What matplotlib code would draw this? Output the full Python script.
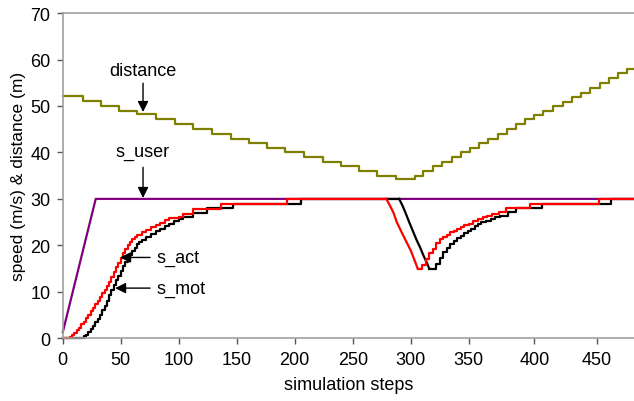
import matplotlib
matplotlib.use('Agg')
import matplotlib.pyplot as plt

plt.rcParams['font.family'] = ['Liberation Sans', 'DejaVu Sans']

nan = float('nan')

# x is the sample index of the Excel category axis; the tick labels are the step names
tick_pos = [0, 50, 100, 150, 200, 250, 300, 350, 406.6, 460.3]
tick_labels = ['0', '50', '100', '150', '200', '250', '300', '350', '400', '450']

# s_user (purple)
user_x = [0, 28.4, 493]
user_y = [1.3, 30, 30]

# s_act (red), stair part (nan breaks where the sharp drop is)
act_x = [0, 6, 8, 10, 12, 14, 16, 18, 20, 22, 24, 26, 28, 30, 32, 34, 36, 38, 40, 42,
         44, 46, 48, 50, 52, 54, 56, 58, 60, 62, 64, 68, 72, 76, 80, 84, 88, 92, 96, 100,
         104, 112, 136, 193, 279, 279.1, 306, 310, 313, 316, 319, 322, 325, 328, 331, 334, 337, 340, 343, 346,
         350, 354, 358, 362, 366, 370, 376, 382, 403, 462, 493]
act_y = [0, 0.3, 0.7, 1.2, 1.7, 2.3, 3.0, 3.6, 4.3, 5.0, 5.8, 6.5, 7.3, 8.1, 8.9, 9.7, 10.5, 11.3, 12.2, 13.2,
         14.3, 15.3, 16.3, 17.3, 18.3, 19.2, 20.0, 20.7, 21.3, 21.8, 22.2, 22.8, 23.4, 23.9, 24.4, 24.9, 25.4, 25.8, 25.8, 26.0,
         26.8, 27.8, 29.0, 30.0, 30.0, nan, 15.0, 15.8, 17.1, 18.3, 19.3, 20.6, 21.3, 21.8, 22.3, 22.8, 23.2, 23.5, 23.9, 24.3,
         24.7, 25.2, 25.7, 26.0, 26.4, 26.8, 27.2, 28.0, 29.0, 30.0, 30.0]
# s_act drop (drawn as a slanted line)
act_drop_x = [279, 282, 285, 288, 292, 296, 300, 303, 306]
act_drop_y = [30.0, 28.6, 27.1, 25.0, 22.9, 20.9, 18.9, 17.0, 15.0]

# s_mot (black), stair part
mot_x = [0, 16, 18, 20, 22, 24, 26, 28, 30, 32, 34, 36, 38, 40, 42, 44, 46, 48, 50, 52,
         54, 56, 58, 60, 62, 64, 66, 68, 72, 76, 80, 84, 88, 92, 96, 100, 104, 112, 124, 147,
         205, 290, 290.1, 316, 319, 322, 325, 328, 331, 334, 337, 340, 343, 346, 349, 352, 355, 358, 361, 365,
         369, 373, 377, 384, 391, 413, 473, 493]
mot_y = [0, 0, 0.4, 0.8, 1.4, 2.0, 2.7, 3.4, 4.2, 5.0, 6.0, 7.0, 8.1, 9.3, 10.4, 11.5, 12.5, 13.5, 14.5, 15.5,
         16.4, 17.2, 18.0, 18.8, 19.5, 20.2, 20.7, 21.2, 21.9, 22.4, 23.0, 23.6, 24.2, 24.7, 25.2, 25.7, 26.0, 26.9, 28.0, 29.0,
         30.0, 30.0, nan, 15.0, 15.0, 16.0, 17.3, 18.5, 19.5, 20.4, 21.0, 21.6, 22.1, 22.7, 23.2, 23.6, 24.1, 24.6, 25.0, 25.3,
         25.7, 26.0, 26.4, 27.2, 28.0, 29.0, 30.0, 30.0]
# s_mot drop
mot_drop_x = [290, 293, 296, 299, 302, 305, 308, 311, 314, 316]
mot_drop_y = [30.0, 28.5, 26.7, 24.8, 23.0, 21.2, 19.6, 17.8, 16.2, 15.0]

# distance (olive), one value per stair
dist_x = [0, 17.2, 32.8, 48.8, 64.3, 80.4, 96.8, 112.1, 128.4, 144.8, 160.3, 176.4, 191.9, 208, 224.1,
          239.7, 255.7, 271.2, 287.3, 303.7, 310.6, 319, 326.7, 335.3, 343.1, 351.1, 359.1, 366.9, 375,
          382.8, 390.8, 398.8, 406.6, 414.3, 422.9, 431, 438.8, 446.6, 454.6, 463.2, 471.2, 478.9, 486.7, 493]
dist_y = [52.2, 51.1, 49.9, 48.9, 48.2, 47.3, 46.1, 45.0, 43.9, 43.0, 42.0, 41.0, 40.0, 39.1, 38.0,
          37.0, 36.0, 35.0, 34.2, 35.0, 36.0, 37.0, 38.0, 39.1, 40.0, 41.0, 42.0, 43.0, 44.0,
          45.1, 46.1, 47.1, 48.1, 48.9, 49.9, 50.9, 51.9, 52.9, 53.9, 55.0, 56.0, 57.0, 58.0, 58.0]

fig = plt.figure(figsize=(6.34, 4.02), dpi=100)
ax = fig.add_axes([0.099, 0.156, 0.901, 0.809])

lw = 1.6
ax.plot(dist_x, dist_y, color='#808000', lw=lw, drawstyle='steps-post', clip_on=False)
ax.plot(user_x, user_y, color='#800080', lw=lw, clip_on=False)
ax.plot(mot_x, mot_y, color='black', lw=lw, drawstyle='steps-post', clip_on=False)
ax.plot(mot_drop_x, mot_drop_y, color='black', lw=lw)
ax.plot(act_x, act_y, color='red', lw=lw, drawstyle='steps-post', clip_on=False)
ax.plot(act_drop_x, act_drop_y, color='red', lw=lw)

ax.set_xlim(0, 492.5)
ax.set_ylim(0, 70)
ax.set_xticks(tick_pos)
ax.set_xticklabels(tick_labels)
ax.set_yticks(range(0, 71, 10))

for side in ['left', 'bottom', 'top']:
    ax.spines[side].set_color('#a0a0a0')
    ax.spines[side].set_linewidth(1.2)
ax.spines['right'].set_visible(False)
ax.tick_params(direction='out', length=4, width=1, color='#555555', labelsize=13, pad=5)

ax.set_xlabel('simulation steps', fontsize=13, labelpad=6)
ax.set_ylabel('speed (m/s) & distance (m)', fontsize=12.5, labelpad=3)

# labels with arrows
arrow = dict(arrowstyle='-|>', color='black', lw=1, mutation_scale=16, shrinkA=0, shrinkB=0)
ax.text(69.2, 57.7, 'distance', fontsize=13, ha='center', va='center')
ax.annotate('', xy=(69.2, 48.7), xytext=(69.2, 54.9), arrowprops=arrow)
ax.text(69.2, 40.3, 's_user', fontsize=13, ha='center', va='center')
ax.annotate('', xy=(69.2, 30.2), xytext=(69.2, 36.8), arrowprops=arrow)
ax.text(80.4, 17.4, 's_act', fontsize=13, ha='left', va='center')
ax.annotate('', xy=(49.4, 17.4), xytext=(75.3, 17.4), arrowprops=arrow)
ax.text(80.4, 10.8, 's_mot', fontsize=13, ha='left', va='center')
ax.annotate('', xy=(45.1, 10.8), xytext=(75.3, 10.8), arrowprops=arrow)

fig.savefig('out.png', dpi=100)
